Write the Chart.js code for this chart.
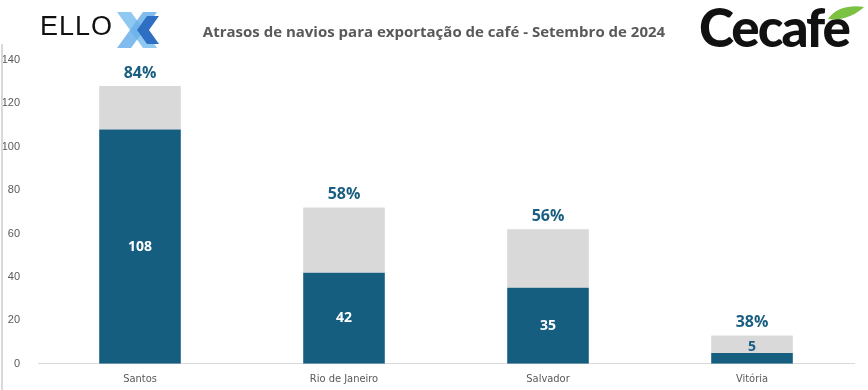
<!DOCTYPE html>
<html>
<head>
<meta charset="utf-8">
<script src="https://cdn.jsdelivr.net/npm/chart.js@4"></script>
<style>
	html, body { margin: 0; padding: 0; background: #fff; }
	#wrap { position: relative; width: 868px; height: 390px; overflow: hidden; }
	#chart { position: absolute; left: 0; top: 0; }
	#edge { position: absolute; left: 1px; top: 44px; width: 2px; height: 346px; background: #d9d9d9; }
	#title { position: absolute; left: 0; width: 868px; top: 21px; text-align: center;
		font: 700 15px "Open Sans", sans-serif; color: #595959; }
	#ello { position: absolute; left: 40px; top: 11px; font: 400 27px "Liberation Sans", sans-serif; color: #111; letter-spacing: 1px; }
	#ellox { position: absolute; left: 113px; top: 8px; }
	#cecafe { position: absolute; left: 699px; top: -5px; font: 900 53px "Lato", sans-serif; color: #111; letter-spacing: -2px; }
	#leaf { position: absolute; left: 826px; top: 5px; }
</style>
</head>
<body>
<div id="wrap">
	<canvas id="chart" width="868" height="390"></canvas>
	<div id="edge"></div>
	<div id="ello">ELLO</div>
	<svg id="ellox" width="50" height="44" viewBox="0 0 50 44">
		<path d="M4 4 L18 4 L44 40 L30 40 Z" fill="#8fc8f0"/>
		<path d="M30 4 L44 4 L18 40 L4 40 Z" fill="#6ab0ea" opacity="0.85"/>
		<path d="M34 8 L46 8 L36 22 L46 36 L34 36 L24 22 Z" fill="#2e6fc4"/>
	</svg>
	<div id="title">Atrasos de navios para exportação de café - Setembro de 2024</div>
	<div id="cecafe">Cecafe</div>
	<svg id="leaf" width="40" height="16" viewBox="0 0 40 16">
		<path d="M2 14 C10 2 26 0 38 2 C30 10 16 16 2 14 Z" fill="#7cc242"/>
	</svg>
</div>
<script>
var ports = ['Santos', 'Rio de Janeiro', 'Salvador', 'Vitória'];
var delayed = [108, 42, 35, 5];
var others = [20, 30, 27, 8];
var pctLabels = ['84%', '58%', '56%', '38%'];
var yTicks = [0, 20, 40, 60, 80, 100, 120, 140];

var barLabels = {
	id: 'barLabels',
	afterDatasetsDraw: function(chart) {
		var ctx = chart.ctx;
		var dark = chart.getDatasetMeta(0).data;
		var light = chart.getDatasetMeta(1).data;
		ctx.save();
		ctx.textAlign = 'center';
		ctx.textBaseline = 'middle';
		for (var i = 0; i < ports.length; i++) {
			var d = dark[i], l = light[i];
			ctx.font = 'bold 16px "Open Sans", sans-serif';
			ctx.fillStyle = '#1a5f82';
			ctx.fillText(pctLabels[i], l.x, l.y - 13);
			ctx.font = 'bold 14px "Open Sans", sans-serif';
			if (d.base - d.y > 22) {
				ctx.fillStyle = '#ffffff';
				ctx.fillText(delayed[i], d.x, (d.y + d.base) / 2);
			} else {
				ctx.fillStyle = '#1a5f82';
				ctx.fillText(delayed[i], d.x, d.y - 6);
			}
		}
		ctx.restore();
	}
};

var ctx = document.getElementById('chart').getContext('2d');
var chart = new Chart(ctx, {
	type: 'bar',
	data: {
		labels: ports,
		datasets: [{
			label: 'Atrasados',
			data: delayed,
			backgroundColor: '#165e80'
		}, {
			label: 'Total',
			data: others,
			backgroundColor: '#d9d9d9'
		}]
	},
	options: {
		responsive: false,
		animation: false,
		layout: { padding: { top: 60, right: 14, bottom: 3, left: 0 } },
		plugins: { legend: { display: false }, tooltip: { enabled: false } },
		datasets: { bar: { categoryPercentage: 1, barPercentage: 0.4 } },
		scales: {
			x: {
				stacked: true,
				grid: { display: false },
				border: { display: true, color: '#d9d9d9', width: 1 },
				ticks: { color: '#595959', font: { family: '"Liberation Sans Narrow", "DejaVu Sans Condensed", sans-serif', size: 11 }, padding: 1 }
			},
			y: {
				stacked: true,
				min: 0,
				max: 140,
				afterBuildTicks: function(axis) {
					axis.ticks = yTicks.map(function(v) { return { value: v }; });
				},
				afterFit: function(axis) { axis.width = 38; },
				grid: { display: false },
				border: { display: false },
				ticks: { color: '#595959', font: { family: '"Liberation Sans", sans-serif', size: 11 }, padding: 10 }
			}
		}
	},
	plugins: [barLabels]
});
</script>
</body>
</html>
